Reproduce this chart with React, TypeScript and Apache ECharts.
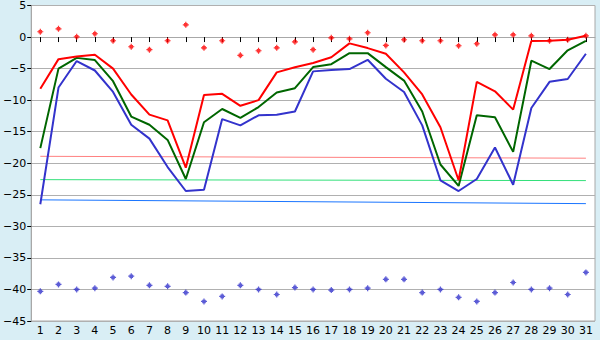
import React, { useEffect, useRef } from "react";
import * as echarts from "echarts";

const days = ["1","2","3","4","5","6","7","8","9","10","11","12","13","14","15","16","17","18","19","20","21","22","23","24","25","26","27","28","29","30","31"];

const redLine = [-8.2,-3.5,-3.1,-2.8,-5.0,-9.1,-12.3,-13.2,-20.7,-9.2,-9.0,-10.9,-10.0,-5.6,-4.8,-4.1,-3.2,-1.0,-1.75,-2.65,-5.6,-9.1,-14.3,-22.7,-7.1,-8.6,-11.5,-0.64,-0.59,-0.43,0.2];
const greenLine = [-17.6,-5.0,-3.3,-3.65,-7.0,-12.6,-13.9,-16.3,-22.5,-13.5,-11.4,-12.8,-11.1,-8.8,-8.1,-4.76,-4.3,-2.55,-2.55,-4.76,-6.9,-11.8,-20.2,-23.6,-12.4,-12.7,-18.2,-3.75,-5.07,-2.1,-0.59];
const blueLine = [-26.5,-8.0,-3.8,-5.3,-8.7,-13.9,-16.1,-20.6,-24.4,-24.2,-13.0,-14.0,-12.4,-12.3,-11.8,-5.44,-5.23,-5.07,-3.6,-6.6,-8.7,-14.0,-22.7,-24.4,-22.5,-17.5,-23.4,-11.25,-7.1,-6.65,-2.65];

const redPoints = [0.84,1.31,0.05,0.52,-0.59,-1.54,-2.0,-0.59,1.94,-1.7,-0.59,-2.9,-2.17,-1.7,-0.75,-2.0,-0.12,-0.28,0.68,-1.33,-0.43,-0.59,-0.59,-1.38,-1.06,0.36,0.36,0.2,-0.59,-0.43,0.2];
const bluePoints = [-40.3,-39.2,-40.0,-39.8,-38.1,-37.9,-39.35,-39.5,-40.5,-41.9,-41.1,-39.35,-40.0,-40.8,-39.7,-40.0,-40.1,-40.0,-39.8,-38.4,-38.4,-40.5,-40.0,-41.25,-41.9,-40.5,-38.9,-40.0,-39.8,-40.8,-37.3];

const redTrend = [["1", -18.9], ["31", -19.2]];
const greenTrend = [["1", -22.6], ["31", -22.75]];
const blueTrend = [["1", -25.8], ["31", -26.4]];

const FONT = "DejaVu Sans";
const markerPath = "path://M2,0H3V1H4V2H5V3H4V4H3V5H2V4H1V3H0V2H1V1H2Z";

export default function App() {
  const ref = useRef<HTMLDivElement>(null);
  useEffect(() => {
    if (!ref.current) return;
    const chart = echarts.init(ref.current, null, { renderer: "svg" });
    const trend = (data: any, color: string) => ({
      type: "line",
      data,
      symbol: "none",
      lineStyle: { color, width: 1 },
      z: 1,
      silent: true,
    });
    const line = (data: number[], color: string) => ({
      type: "line",
      data,
      symbol: "none",
      lineStyle: { color, width: 2 },
      z: 2,
    });
    const pts = (data: number[], color: string) => ({
      type: "scatter",
      data,
      symbol: markerPath,
      symbolSize: 6,
      itemStyle: { color },
      z: 3,
    });
    chart.setOption({
      animation: false,
      backgroundColor: "#d9eef5",
      grid: {
        left: 26,
        right: 5,
        top: 5,
        bottom: 19,
        show: true,
        backgroundColor: "#ffffff",
        borderColor: "#a8a8a8",
        borderWidth: 1,
      },
      xAxis: {
        type: "category",
        data: days,
        boundaryGap: true,
        axisLine: { show: true, lineStyle: { color: "#a8a8a8" } },
        axisTick: { show: true, alignWithLabel: true, length: 5, lineStyle: { color: "#000" } },
        axisLabel: { color: "#000", fontFamily: FONT, fontSize: 11, margin: 4, interval: 0 },
        splitLine: { show: false },
      },
      yAxis: {
        type: "value",
        min: -45,
        max: 5,
        interval: 5,
        axisLine: { show: true, lineStyle: { color: "#a8a8a8" } },
        axisTick: { show: true, length: 4, lineStyle: { color: "#000" } },
        axisLabel: {
          color: "#000",
          fontFamily: FONT,
          fontSize: 11,
          margin: 5,
          formatter: (v: number) => String(v).replace("-", "\u2212"),
        },
        splitLine: { show: true, lineStyle: { color: "#b0b0b0", width: 1 } },
      },
      series: [
        trend(redTrend, "#ff8080"),
        trend(greenTrend, "#33e07a"),
        trend(blueTrend, "#1a75ff"),
        line(blueLine, "#3333cc"),
        line(greenLine, "#006600"),
        line(redLine, "#ff0000"),
        pts(redPoints, "#ff0000"),
        pts(bluePoints, "#3333cc"),
      ],
    });
    return () => chart.dispose();
  }, []);
  return (
    <div
      ref={ref}
      style={{ position: "fixed", left: 0, top: 0, width: 600, height: 340 }}
    />
  );
}
